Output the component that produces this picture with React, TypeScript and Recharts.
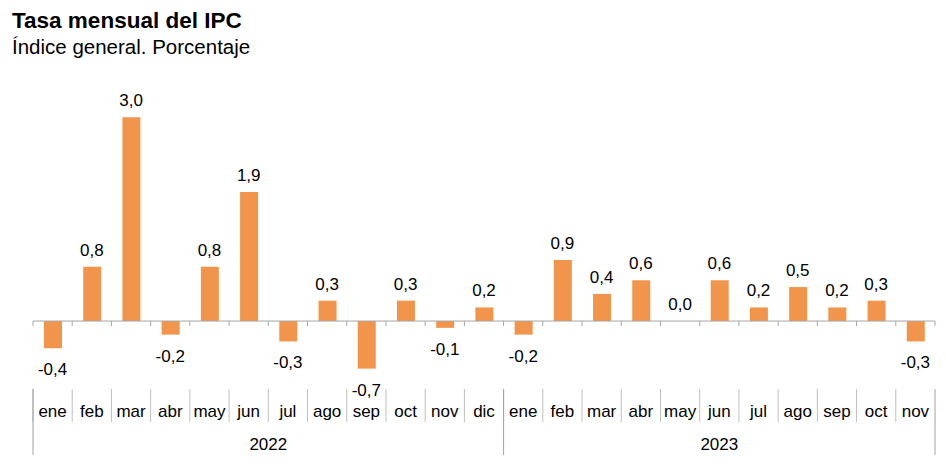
import React from 'react'
import { ComposedChart, Bar, Line, XAxis, YAxis, ReferenceLine, LabelList } from 'recharts'

const months = [
  'ene', 'feb', 'mar', 'abr', 'may', 'jun', 'jul', 'ago', 'sep', 'oct', 'nov', 'dic',
  'ene', 'feb', 'mar', 'abr', 'may', 'jun', 'jul', 'ago', 'sep', 'oct', 'nov',
]
const years = [
  '2022', '2022', '2022', '2022', '2022', '2022', '2022', '2022', '2022', '2022', '2022', '2022',
  '2023', '2023', '2023', '2023', '2023', '2023', '2023', '2023', '2023', '2023', '2023',
]
const rates = [
  -0.4, 0.8, 3.0, -0.2, 0.8, 1.9, -0.3, 0.3, -0.7, 0.3, -0.1, 0.2,
  -0.2, 0.9, 0.4, 0.6, 0.0, 0.6, 0.2, 0.5, 0.2, 0.3, -0.3,
]

const data = months.map((m, i) => ({ month: m, year: years[i], rate: rates[i] }))

const FONT = '"Liberation Sans", Arial, sans-serif'
const ORANGE = '#F0954B'

const fmt = (v: number) => v.toFixed(1).replace('.', ',')

// labels hang off an invisible line so that the 0,0 value gets one too
function ValueLabel(props: any) {
  const { x, y, value } = props
  const ty = value < 0 ? y + 27 : y - 11
  return (
    <text x={x} y={ty} textAnchor="middle" fontSize={17} fill="#000" fontFamily={FONT}>
      {fmt(value)}
    </text>
  )
}

function ZeroLine(props: any) {
  const { x1, y1, x2 } = props
  const step = (x2 - x1) / months.length
  return (
    <g>
      <line x1={x1} y1={y1} x2={x2} y2={y1} stroke="#a6a6a6" strokeWidth={1} />
      {months.map((_, i) => (
        <line key={i} x1={x1 + i * step} y1={y1} x2={x1 + i * step} y2={y1 + 5} stroke="#a6a6a6" />
      ))}
      <line x1={x2} y1={y1} x2={x2} y2={y1 + 5} stroke="#a6a6a6" />
    </g>
  )
}

function MonthTick(props: any) {
  const { x, y, payload } = props
  const left = payload.coordinate - payload.offset
  return (
    <g>
      <line x1={left} y1={y} x2={left} y2={y + 33} stroke="#bfbfbf" />
      <text x={x} y={y + 28} textAnchor="middle" fontSize={17} fill="#000" fontFamily={FONT}>
        {payload.value}
      </text>
    </g>
  )
}

function YearTick(props: any) {
  const { y, payload, index } = props
  const i = index
  const step = payload.offset * 2
  const left = payload.coordinate - payload.offset
  const isFirst = i === 0 || years[i - 1] !== years[i]
  const isLast = i === years.length - 1
  const count = years.filter((yy) => yy === years[i]).length
  return (
    <g>
      {isFirst && (
        <>
          <line x1={left} y1={y - 33} x2={left} y2={y + 33} stroke="#a0a0a0" />
          <text x={left + (count * step) / 2} y={y + 28} textAnchor="middle" fontSize={17} fill="#000" fontFamily={FONT}>
            {years[i]}
          </text>
        </>
      )}
      {isLast && (
        <line x1={left + step} y1={y - 33} x2={left + step} y2={y + 33} stroke="#a0a0a0" />
      )}
    </g>
  )
}

export default function App() {
  return (
    <div style={{ position: 'absolute', left: 0, top: 0, width: 946, height: 468, background: '#fff', fontFamily: FONT }}>
      <div style={{ position: 'absolute', left: 12, top: 8, fontSize: 22.5, fontWeight: 'bold', color: '#000' }}>
        Tasa mensual del IPC
      </div>
      <div style={{ position: 'absolute', left: 12, top: 35, fontSize: 20.5, color: '#000' }}>
        Índice general. Porcentaje
      </div>
      <div style={{ position: 'absolute', left: 0, top: 0 }}>
        <ComposedChart width={946} height={468} data={data} margin={{ top: 90, right: 11, bottom: 13, left: 33 }}>
          <YAxis hide domain={[-1, 3.4]} />
          <XAxis
            dataKey="month"
            interval={0}
            axisLine={false}
            tickLine={false}
            tickSize={0}
            tickMargin={0}
            height={33}
            tick={<MonthTick />}
          />
          <XAxis
            xAxisId="year"
            dataKey="year"
            interval={0}
            axisLine={false}
            tickLine={false}
            tickSize={0}
            tickMargin={0}
            height={33}
            tick={<YearTick />}
          />
          <ReferenceLine y={0} shape={<ZeroLine />} />
          <Bar dataKey="rate" fill={ORANGE} barSize={18} isAnimationActive={false} />
          <Line
            dataKey="rate"
            stroke="none"
            dot={false}
            activeDot={false}
            isAnimationActive={false}
          >
            <LabelList dataKey="rate" content={<ValueLabel />} />
          </Line>
        </ComposedChart>
      </div>
    </div>
  )
}
